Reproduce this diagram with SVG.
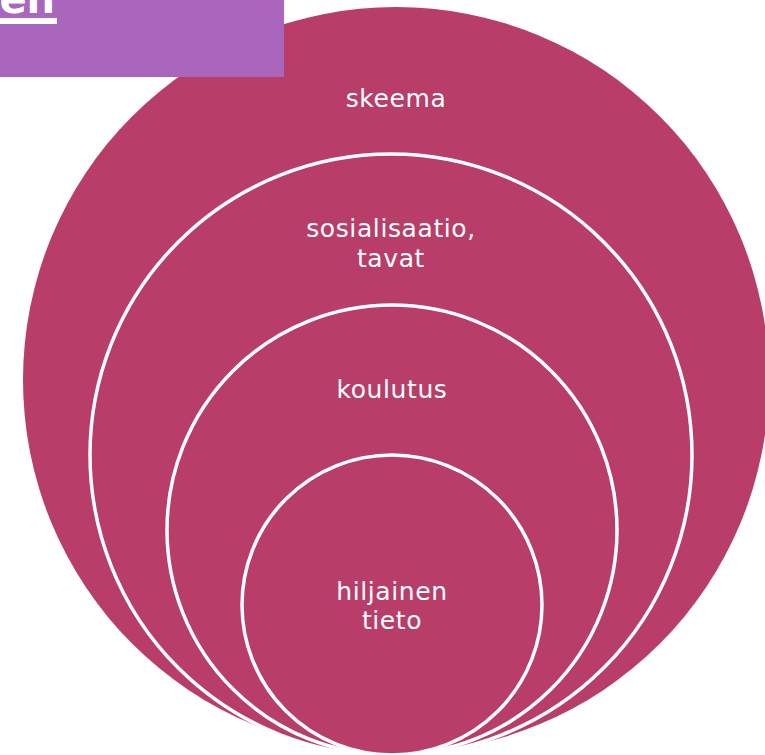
<svg xmlns="http://www.w3.org/2000/svg" width="765" height="755" viewBox="0 0 765 755">
<style>
.c{fill:#B83D68}
.r{fill:#B83D68;stroke:#FFFFFF;stroke-width:3.5}
.t{font-family:"DejaVu Sans","Verdana",sans-serif;font-size:25px;fill:#FFFFFF;text-anchor:middle;letter-spacing:0.6px}
</style>
<rect width="765" height="755" fill="#FFFFFF"/>
<g id="skeema">
<circle class="c" cx="396" cy="380" r="373"/>
<text class="t" x="396" y="107">skeema</text>
</g>
<g id="sosialisaatio">
<circle class="r" cx="391" cy="455" r="301"/>
<text class="t" x="391" y="237">sosialisaatio,</text>
<text class="t" x="391" y="267">tavat</text>
</g>
<g id="koulutus">
<circle class="r" cx="392" cy="530" r="225"/>
<text class="t" x="392" y="398">koulutus</text>
</g>
<g id="hiljainen">
<circle class="r" cx="392" cy="605" r="150"/>
<text class="t" x="392" y="600">hiljainen</text>
<text class="t" x="392" y="629">tieto</text>
</g>
<g id="title">
<rect x="0" y="0" width="284" height="77" fill="#AA66BC"/>
<text x="55" y="13" font-family="DejaVu Sans, sans-serif" font-weight="bold" font-size="40" fill="#FFFFFF" text-anchor="end">en</text>
<rect x="0" y="18" width="57" height="6" fill="#FFFFFF"/>
</g>
<g id="connectors"/>
</svg>
